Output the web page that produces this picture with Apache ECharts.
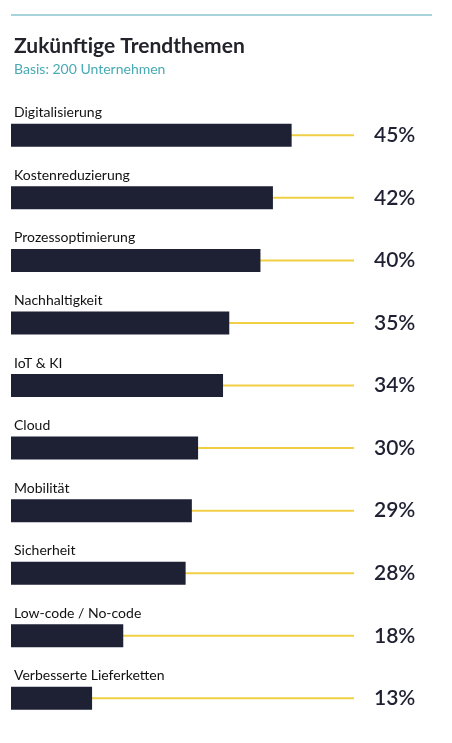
<!DOCTYPE html>
<html><head><meta charset="utf-8">
<script src="https://cdn.jsdelivr.net/npm/echarts@6/dist/echarts.min.js"></script>
<style>html,body{margin:0;padding:0;background:#fff;}#c{width:452px;height:743px;}</style>
</head><body><div id="c"></div>
<script>
const categories = ['Digitalisierung','Kostenreduzierung','Prozessoptimierung','Nachhaltigkeit','IoT & KI','Cloud','Mobilität','Sicherheit','Low-code / No-code','Verbesserte Lieferketten'];
const values = [45,42,40,35,34,30,29,28,18,13];
const axisMax = 55;
const trackValues = categories.map(() => axisMax);

const chart = echarts.init(document.getElementById('c'));
chart.setOption({
  backgroundColor: '#fff',
  animation: false,
  graphic: [
    {type:'line', shape:{x1:11,y1:15,x2:432,y2:15}, style:{stroke:'#4fa9b5', lineWidth:1.2}}
  ],
  title: {
    text: 'Zukünftige Trendthemen',
    subtext: 'Basis: 200 Unternehmen',
    left: 9, top: 31,
    itemGap: 5,
    textStyle: {fontFamily:'Lato', fontSize:21, fontWeight:'bold', color:'#23232b'},
    subtextStyle: {fontFamily:'Lato', fontSize:14, color:'#47aab4'}
  },
  grid: {left: 11, top: 104, width: 343, height: 625.6, containLabel: false},
  xAxis: {type:'value', min:0, max:axisMax, show:false},
  yAxis: [
    {type:'category', data: categories, inverse:true, show:false},
    {type:'category', data: categories, inverse:true, show:false}
  ],
  series: [
    {
      type:'bar', data: trackValues, barWidth: 2, yAxisIndex:1, z:1,
      itemStyle:{color:'#f1cf45'}, silent:true,
      label:{show:true, position:'right', distance:20, fontFamily:'Lato', fontSize:21, fontWeight:600, color:'#1f2133',
        formatter: p => values[p.dataIndex] + '%'}
    },
    {
      type:'bar', data: values, barWidth: 23, yAxisIndex:0, z:2,
      itemStyle:{color:'#1e2034'},
      label:{show:true, position:[3,-4], align:'left', verticalAlign:'bottom', fontFamily:'Lato', fontSize:14, color:'#111',
        formatter: p => categories[p.dataIndex]}
    }
  ]
});
</script></body></html>
